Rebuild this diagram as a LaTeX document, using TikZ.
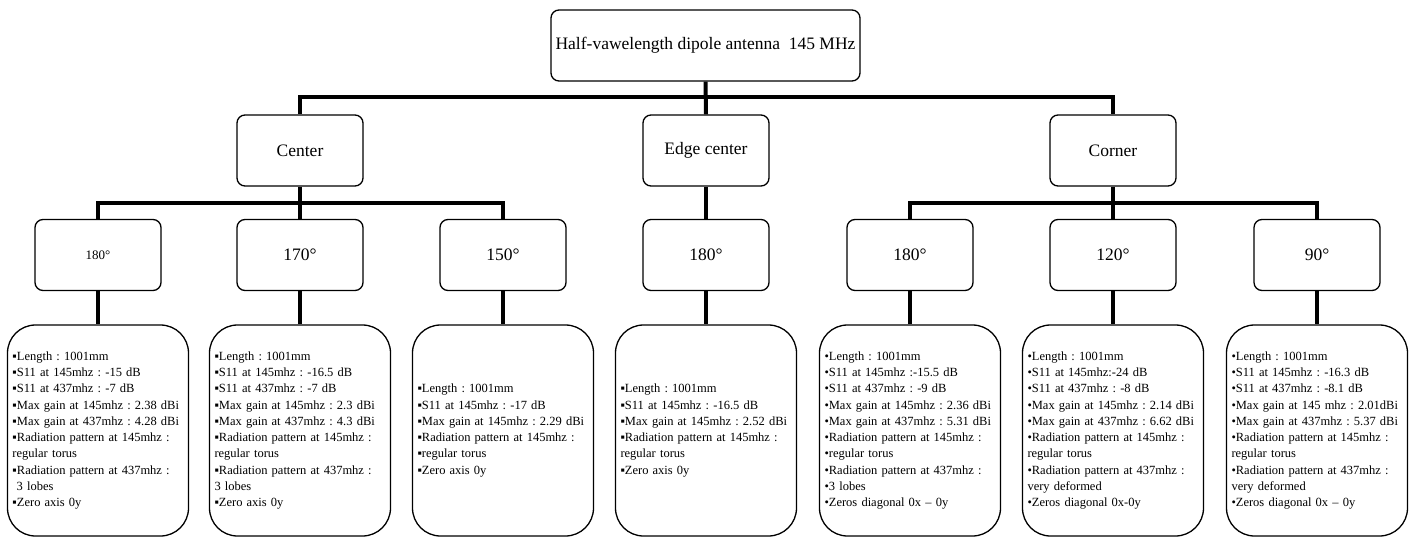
\documentclass[tikz,border=0pt]{standalone}
\usepackage{fontspec}
\setmainfont{Liberation Serif}
\usetikzlibrary{calc, positioning}
\frenchspacing

\begin{document}
\begin{tikzpicture}[x=1pt, y=-1pt,
	box/.style={shape=rectangle, rounded corners=8pt, draw=black, line width=1.3pt, fill=white, minimum width=126pt, minimum height=71pt, inner sep=1pt, font=\fontsize{17.5}{20}\selectfont},
	info/.style={shape=rectangle, rounded corners=28pt, draw=black, line width=1.3pt, fill=white, minimum width=181pt, minimum height=211pt, text width=171pt, inner xsep=5pt, align=left, font=\fontsize{12.5}{16.3}\selectfont},
	link/.style={line width=4pt}]
\useasboundingbox (0,0) rectangle (1409,538);
% bus junctions
\coordinate (j0) at (706,97);
\coordinate (j1) at (300,203);
\coordinate (j2) at (1113,203);
\node[box, minimum width=309pt] (root) at (705.5,45.5) {Half-vawelength dipole antenna\ \ 145 MHz};
\node[box] (cen) at (300,150.5) {Center};
\node[box] (edg) at (706,150.5) {Edge center};
\node[box] (cor) at (1113,150.5) {Corner};
\node[box, font=\fontsize{13}{15}\selectfont] (a1) at (98,255) {180°};
\node[box] (a2) at (300,255) {170°};
\node[box] (a3) at (503,255) {150°};
\node[box] (a4) at (706,255) {180°};
\node[box] (a5) at (910,255) {180°};
\node[box] (a6) at (1113,255) {120°};
\node[box] (a7) at (1317,255) {90°};
\node[info] (b1) at (98,430.5) {▪Length : 1001mm\\ ▪S11 at 145mhz : -15 dB\\ ▪S11 at 437mhz : -7 dB\\ ▪Max gain at 145mhz : 2.38 dBi\\ ▪Max gain at 437mhz : 4.28 dBi\\ ▪Radiation pattern at 145mhz :\\ regular torus\\ ▪Radiation pattern at 437mhz :\\ \ 3 lobes\\ ▪Zero axis 0y};
\node[info] (b2) at (300,430.5) {▪Length : 1001mm\\ ▪S11 at 145mhz : -16.5 dB\\ ▪S11 at 437mhz : -7 dB\\ ▪Max gain at 145mhz : 2.3 dBi\\ ▪Max gain at 437mhz : 4.3 dBi\\ ▪Radiation pattern at 145mhz :\\ regular torus\\ ▪Radiation pattern at 437mhz :\\ 3 lobes\\ ▪Zero axis 0y};
\node[info] (b3) at (503,430.5) {▪Length : 1001mm\\ ▪S11 at 145mhz : -17 dB\\ ▪Max gain at 145mhz : 2.29 dBi\\ ▪Radiation pattern at 145mhz :\\ ▪regular torus\\ ▪Zero axis 0y};
\node[info] (b4) at (706,430.5) {▪Length : 1001mm\\ ▪S11 at 145mhz : -16.5 dB\\ ▪Max gain at 145mhz : 2.52 dBi\\ ▪Radiation pattern at 145mhz :\\ regular torus\\ ▪Zero axis 0y};
\node[info] (b5) at (910,430.5) {•Length : 1001mm\\ •S11 at 145mhz :-15.5 dB\\ •S11 at 437mhz : -9 dB\\ •Max gain at 145mhz : 2.36 dBi\\ •Max gain at 437mhz : 5.31 dBi\\ •Radiation pattern at 145mhz :\\ •regular torus\\ •Radiation pattern at 437mhz :\\ •3 lobes\\ •Zeros diagonal 0x – 0y};
\node[info] (b6) at (1113,430.5) {•Length : 1001mm\\ •S11 at 145mhz:-24 dB\\ •S11 at 437mhz : -8 dB\\ •Max gain at 145mhz : 2.14 dBi\\ •Max gain at 437mhz : 6.62 dBi\\ •Radiation pattern at 145mhz :\\ regular torus\\ •Radiation pattern at 437mhz :\\ very deformed\\ •Zeros diagonal 0x-0y};
\node[info] (b7) at (1317,430.5) {•Length : 1001mm\\ •S11 at 145mhz : -16.3 dB\\ •S11 at 437mhz : -8.1 dB\\ •Max gain at 145 mhz : 2.01dBi\\ •Max gain at 437mhz : 5.37 dBi\\ •Radiation pattern at 145mhz :\\ regular torus\\ •Radiation pattern at 437mhz :\\ very deformed\\ •Zeros diagonal 0x – 0y};
% tree
\draw[link] (root.south) -- (edg.north);
\draw[link] (j0) -| (cen.north);
\draw[link] (j0) -| (cor.north);
\draw[link] (edg.south) -- (a4.north);
\draw[link] (cen.south) -- (a2.north);
\draw[link] (j1) -| (a1.north);
\draw[link] (j1) -| (a3.north);
\draw[link] (cor.south) -- (a6.north);
\draw[link] (j2) -| (a5.north);
\draw[link] (j2) -| (a7.north);
\foreach \i in {1,...,7}{
	\draw[link] (a\i.south) -- (b\i.north);
}
\end{tikzpicture}
\end{document}
